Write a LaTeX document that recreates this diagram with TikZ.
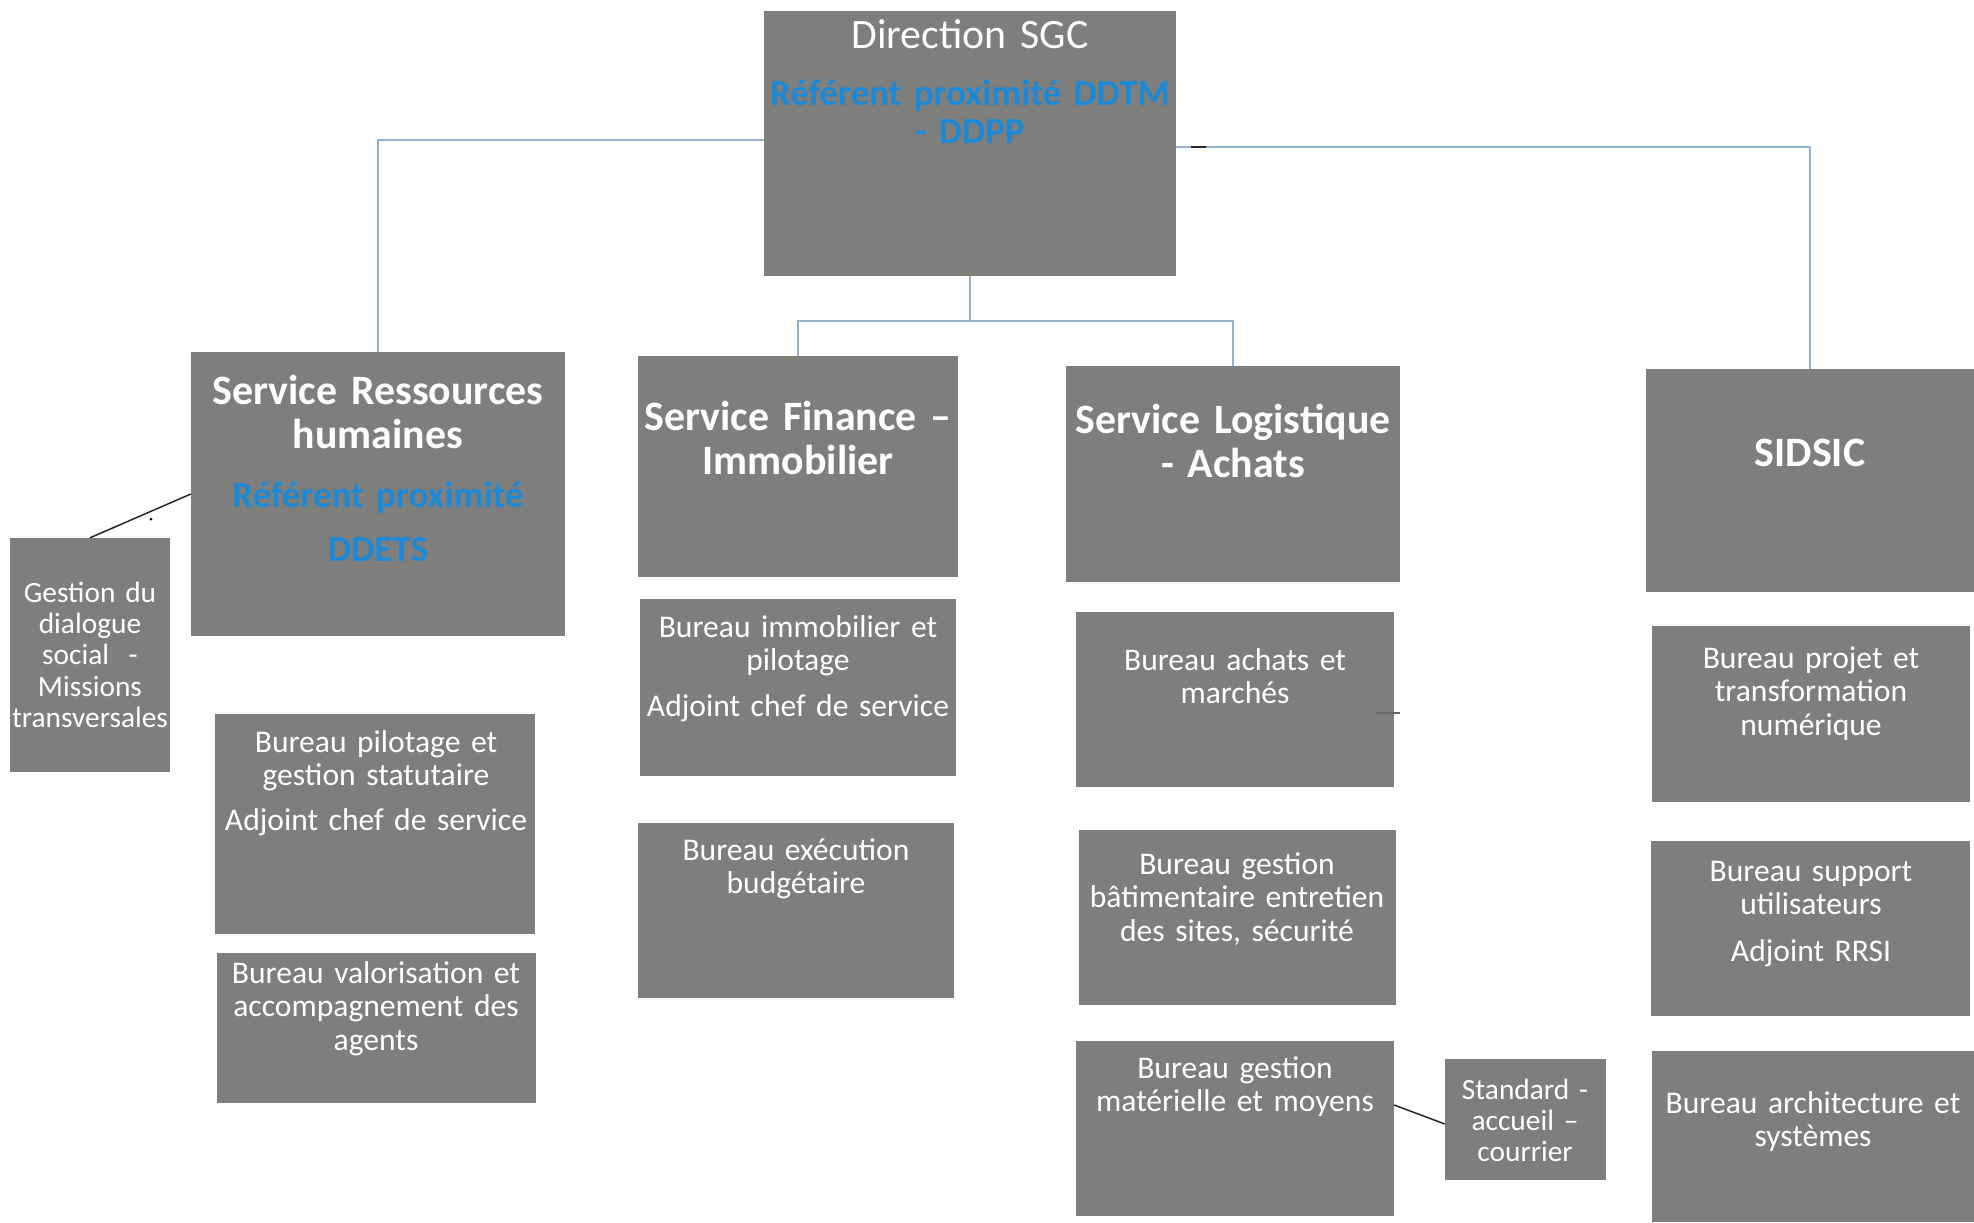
\documentclass[tikz,border=0pt]{standalone}
\usepackage{fontspec}
\setmainfont{Carlito}
\usetikzlibrary{fit}
\definecolor{boxgray}{RGB}{126,126,124}
\definecolor{refblue}{RGB}{30,138,215}
\definecolor{linkblue}{RGB}{150,176,208}
\begin{document}
\begin{tikzpicture}[x=1bp,y=-1bp,
  box/.style={fill=boxgray, draw=none, inner sep=0pt},
  txt/.style={text=white, align=center, inner sep=0pt, anchor=base, text width=#1},
  txt/.default=420bp,
  titlef/.style={font=\fontsize{42}{45}\selectfont\bfseries},
  dirf/.style={font=\fontsize{42}{45}\selectfont},
  bluef/.style={text=refblue, font=\fontsize{37}{39}\selectfont\bfseries},
  burf/.style={font=\fontsize{31.7}{34}\selectfont},
  smallf/.style={font=\fontsize{29.5}{31.5}\selectfont},
  link/.style={draw=linkblue, line width=1.5bp},
  blk/.style={draw=black!85, line width=1.5bp}]
\useasboundingbox (0,0) rectangle (1974,1222);

% boxes
\node[box, fit={(764,11) (1176,276)}] (dir) {};
\node[box, fit={(191,352) (565,636)}] (rh) {};
\node[box, fit={(638,356) (958,577)}] (fin) {};
\node[box, fit={(1066,366) (1400,582)}] (log) {};
\node[box, fit={(1646,369) (1974,592)}] (sid) {};
\node[box, fit={(10,538) (170,772)}] (gest) {};
\node[box, fit={(215,714) (535,934)}] (pil) {};
\node[box, fit={(217,953) (536,1103)}] (val) {};
\node[box, fit={(640,599) (956,776)}] (imm) {};
\node[box, fit={(638,823) (954,998)}] (exe) {};
\node[box, fit={(1076,612) (1394,787)}] (ach) {};
\node[box, fit={(1079,830) (1396,1005)}] (bat) {};
\node[box, fit={(1076,1041) (1394,1216)}] (mat) {};
\node[box, fit={(1445,1059) (1606,1180)}] (std) {};
\node[box, fit={(1652,626) (1970,802)}] (proj) {};
\node[box, fit={(1651,841) (1970,1016)}] (sup) {};
\node[box, fit={(1652,1051) (1974,1222)}] (arch) {};

% texts
\node[txt, dirf] (dir-t) at (970,48) {Direction SGC};
\node[txt=480bp, bluef] (dir-b) at (970,105) {Référent proximité DDTM\\- DDPP};
\node[txt, titlef] (rh-t) at (378,404) {Service Ressources\\humaines};
\node[txt, bluef, font=\fontsize{37}{55}\selectfont\bfseries] (rh-b) at (378,507) {Référent proximité\\DDETS};
\node[txt, titlef] (fin-t) at (798,430) {Service Finance –\\Immobilier};
\node[txt, titlef] (log-t) at (1233,433) {Service Logistique\\- Achats};
\node[txt, titlef] (sid-t) at (1810,466) {SIDSIC};
\node[txt=200bp, smallf] (gest-t) at (90,602) {Gestion du\\dialogue\\social\ \ -\\Missions\\transversales};
\node[txt, burf] (pil-t) at (376,752) {Bureau pilotage et\\gestion statutaire\\[11bp]Adjoint chef de service};
\node[txt, burf] (val-t) at (376,983) {Bureau valorisation et\\accompagnement des\\agents};
\node[txt, burf] (imm-t) at (798,637) {Bureau immobilier et\\pilotage\\[12bp]Adjoint chef de service};
\node[txt, burf] (exe-t) at (796,860) {Bureau exécution\\budgétaire};
\node[txt, burf] (ach-t) at (1235,670) {Bureau achats et\\marchés};
\node[txt, burf] (bat-t) at (1237,874) {Bureau gestion\\bâtimentaire entretien\\des sites, sécurité};
\node[txt, burf] (mat-t) at (1235,1078) {Bureau gestion\\matérielle et moyens};
\node[txt=200bp, smallf] (std-t) at (1525,1099) {Standard -\\accueil –\\courrier};
\node[txt, burf] (proj-t) at (1811,668) {Bureau projet et\\transformation\\numérique};
\node[txt, burf] (sup-t) at (1811,881) {Bureau support\\utilisateurs\\[13bp]Adjoint RRSI};
\node[txt, burf] (arch-t) at (1813,1113) {Bureau architecture et\\systèmes};

% connectors
\draw[link] ([yshift=3.5bp]dir.west) -| (rh.north);
\draw[link] ([yshift=-3.5bp]dir.east) -| (sid.north);
\path (dir.south) ++(0,45) coordinate (mid);
\draw[link] (dir.south) -- (mid);
\draw[link] (mid) -| (fin.north);
\draw[link] (mid) -| (log.north);
\draw[blk] ([xshift=15bp,yshift=-3.5bp]dir.east) -- ++(15,0);
\draw[blk] (rh.west) -- (gest.north);
\fill[black] (151,519) circle (1.5);
\draw[blk] ([yshift=23.5bp]mat.east) -- ([yshift=-4.5bp]std.west);
\draw[blk, draw=black!60] ([xshift=-18bp,yshift=-13.5bp]ach.east) -- ++(24,0);
\end{tikzpicture}
\end{document}
